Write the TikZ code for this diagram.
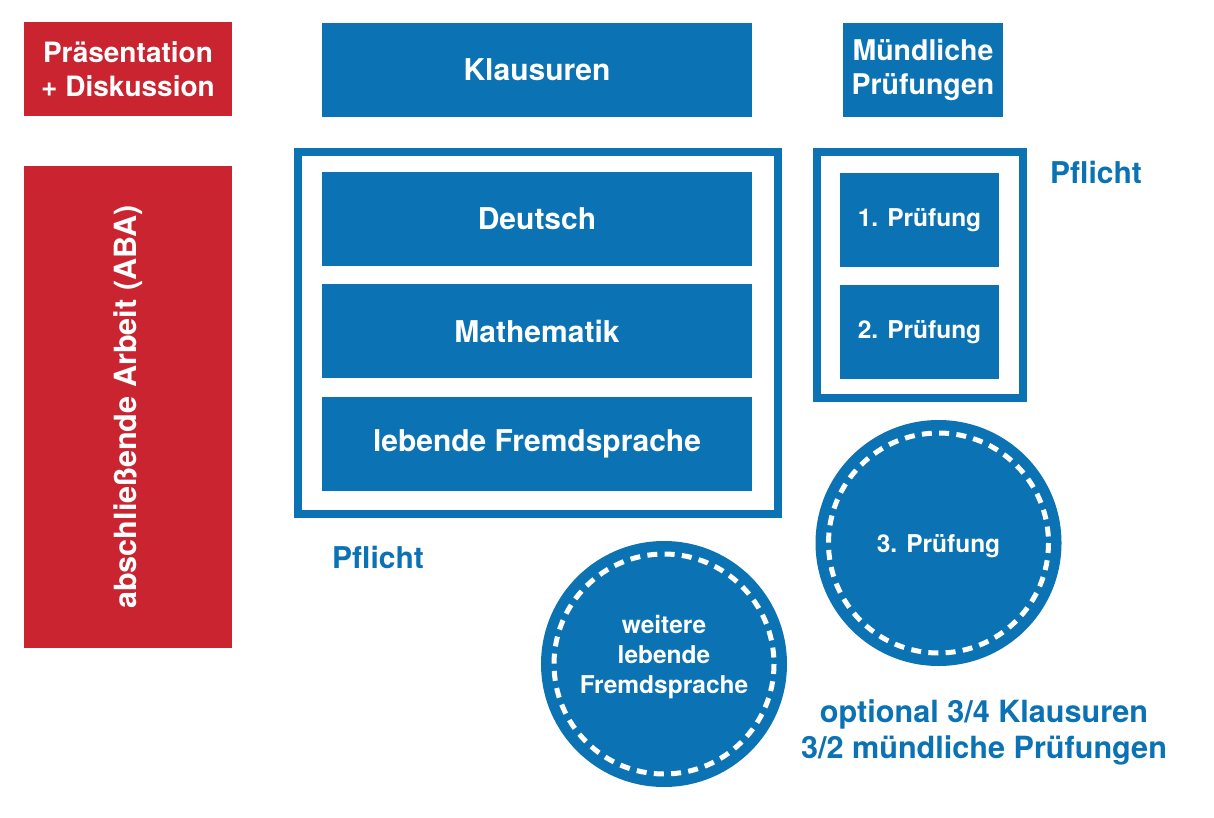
\documentclass[tikz,border=0pt]{standalone}
\usepackage{fontspec}
\setmainfont{TeX Gyre Heros}
\usepackage{tikz}

\definecolor{uniblue}{RGB}{11,114,179}
\definecolor{unired}{RGB}{201,36,47}

\begin{document}
\begin{tikzpicture}[x=1pt, y=-1pt,
  font=\bfseries\fontsize{30}{34}\selectfont,
  box/.style={fill=uniblue, text=white, inner sep=0pt, align=center,
    minimum width=430pt, minimum height=94pt},
  redbox/.style={box, fill=unired, minimum width=208pt},
  smallbox/.style={box, minimum width=159pt,
    font=\bfseries\fontsize{24.5}{30}\selectfont},
  frame/.style={draw=uniblue, line width=8pt, inner sep=0pt},
  exam/.style={circle, fill=uniblue, text=white, inner sep=0pt,
    minimum size=246pt, align=center,
    font=\bfseries\fontsize{24.5}{30}\selectfont},
  ring/.style={draw=white, line width=5pt, dash pattern=on 10pt off 7.3pt},
  note/.style={text=uniblue, align=center}]

\useasboundingbox (0,0) rectangle (1214,818);

% left column
\node [redbox, font=\bfseries\fontsize{28}{34}\selectfont] (praes) at (128,69) {Präsentation\\+ Diskussion};
\node [redbox, minimum height=482pt] (aba) at (128,407) {};
\node [text=white, rotate=90, font=\bfseries\fontsize{30.6}{34}\selectfont] (abatext) at (aba.center) {abschließende Arbeit (ABA)};

% Klausuren
\node [box] (klaus) at (537,70) {Klausuren};
\node [frame, minimum width=480pt, minimum height=362pt] (klausframe) at (538,333) {};
\node [box] (deutsch) at (537,219) {Deutsch};
\node [box] (mathe) at (537,331) {Mathematik};
\node [box] (fremd) at (537,444) {lebende Fremdsprache};
\node [note] (pflichtk) at (378,557) {Pflicht};
\node [exam] (weitere) at (664,664) {};
\node [text=white, align=center, font=\bfseries\fontsize{24.5}{30}\selectfont]
  (weiteretext) at (664,657) {weitere\\lebende\\Fremdsprache};
\draw [ring] (weitere.center) circle (110);

% muendliche Pruefungen
\node [box, minimum width=160pt, font=\bfseries\fontsize{28.5}{34}\selectfont]
  (muendl) at (923,70) {Mündliche\\Prüfungen};
\node [frame, minimum width=206pt, minimum height=246pt] (muendlframe) at (920,275) {};
\node [smallbox] (pr1) at (919.5,220) {1. Prüfung};
\node [smallbox] (pr2) at (919.5,332) {2. Prüfung};
\node [note] (pflichtm) at (1096,172) {Pflicht};
\node [exam] (pr3) at (938.5,543) {};
\node [text=white, font=\bfseries\fontsize{24.5}{30}\selectfont]
  (pr3text) at (938.5,546) {3. Prüfung};
\draw [ring] (pr3.center) circle (110);

\node [note, font=\bfseries\fontsize{30.6}{36}\selectfont] (optional) at (984,732)
  {optional 3/4 Klausuren\\3/2 mündliche Prüfungen};

\end{tikzpicture}
\end{document}
